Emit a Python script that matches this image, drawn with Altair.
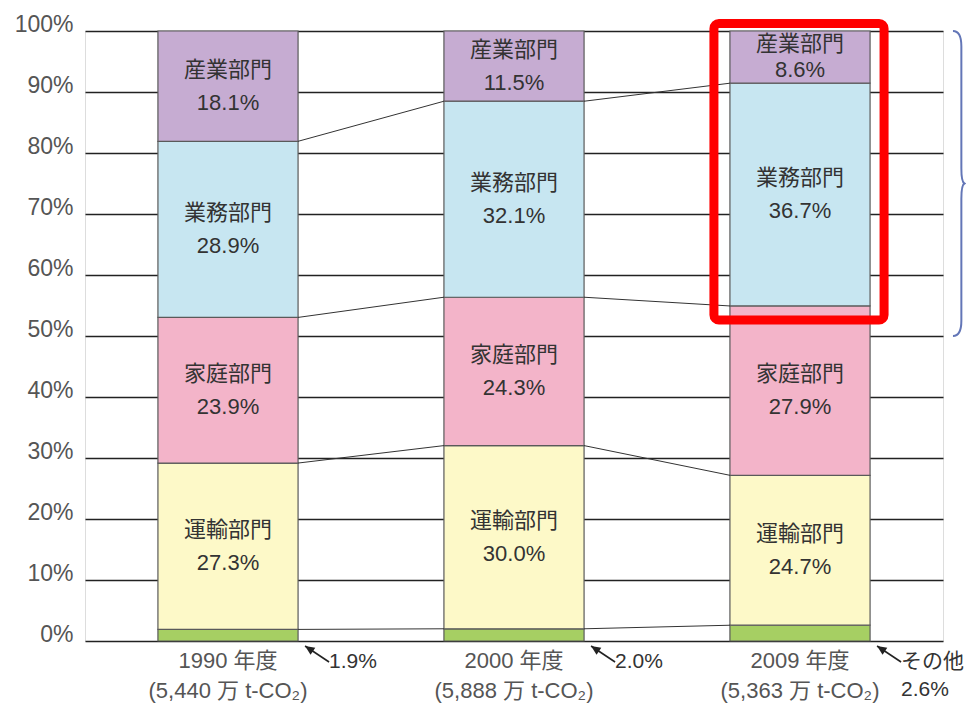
import altair as alt
import pandas as pd

# ---------------- data ----------------
years = ["1990 年度", "2000 年度", "2009 年度"]
totals = ["(5,440 万 t-CO₂)", "(5,888 万 t-CO₂)", "(5,363 万 t-CO₂)"]
sectors = ["その他", "運輸部門", "家庭部門", "業務部門", "産業部門"]  # bottom -> top
sector_colors = ["#a6cf63", "#fdf9c8", "#f3b4c9", "#c7e6f1", "#c6acd2"]
shares_1990 = [1.9, 27.3, 23.9, 28.9, 18.1]
shares_2000 = [2.0, 30.0, 24.3, 32.1, 11.5]
shares_2009 = [2.6, 24.7, 27.9, 36.7, 8.6]
other_notes = ["1.9%", "2.0%", "その他\n2.6%"]
highlight_year = "2009 年度"
highlight_sectors = ["業務部門", "産業部門"]
brace_range = [0.5, 1.0]
y_ticks = [i / 10 for i in range(11)]

# ---------------- tables ----------------
cats = [f"{y}|{t}" for y, t in zip(years, totals)]
all_shares = [shares_1990, shares_2000, shares_2009]

seg_rows = []
bounds = []
for cat, vals in zip(cats, all_shares):
    tot = sum(vals)
    acc = 0.0
    b = []
    for s, v in zip(sectors, vals):
        lo = acc / tot
        acc += v
        hi = acc / tot
        b.append(hi)
        seg_rows.append(dict(cat=cat, sector=s, lo=lo, hi=hi, mid=(lo + hi) / 2,
                             h=hi - lo,
                             label="" if s == "その他" else f"{s}\n{v:.1f}%"))
    bounds.append(b)
seg = pd.DataFrame(seg_rows)

conn_rows = []
for i in range(len(cats) - 1):
    for k in range(len(sectors) - 1):
        conn_rows.append(dict(cat=cats[i], cat2=cats[i + 1],
                              ya=bounds[i][k], yb=bounds[i + 1][k]))
conn = pd.DataFrame(conn_rows)

hcat = cats[years.index(highlight_year)]
hseg = seg[(seg.cat == hcat) & (seg.sector.isin(highlight_sectors))]
box = pd.DataFrame([dict(cat=hcat, lo=hseg.lo.min(), hi=hseg.hi.max())])

ann = pd.DataFrame([dict(cat=c, note=n, base=0.0) for c, n in zip(cats, other_notes)])

brace = pd.DataFrame([dict(cat=hcat, ymid=(brace_range[0] + brace_range[1]) / 2)])

# ---------------- chart ----------------
FONT = "Liberation Sans, Noto Sans CJK JP, sans-serif"
W, H = 858, 610
FS = 22

xscale = alt.Scale(domain=cats, paddingInner=0.51, paddingOuter=0.255)
yscale = alt.Scale(domain=[0, 1], nice=False)

x_main = alt.X("cat:N", scale=xscale, sort=cats, title=None,
               axis=alt.Axis(labelExpr="split(datum.label, '|')", labelAngle=0,
                             labelFontSize=FS, labelColor="#555555", labelFont=FONT,
                             labelPadding=9, labelLineHeight=30, ticks=False,
                             domain=False, grid=False))
y_main = alt.Y("lo:Q", scale=yscale, title=None,
               axis=alt.Axis(values=y_ticks, format=".0%", labelFontSize=23,
                             labelColor="#555555", labelFont=FONT, labelPadding=12,
                             labelBaseline="alphabetic", ticks=False, domain=False,
                             grid=True, gridColor="#222222", gridWidth=1.3))

bars = alt.Chart(seg).mark_bar(stroke="#5a5a5a", strokeWidth=1.2).encode(
    x=x_main,
    y=y_main,
    y2="hi:Q",
    color=alt.Color("sector:N", scale=alt.Scale(domain=sectors, range=sector_colors),
                    legend=None),
)

connectors = alt.Chart(conn).mark_rule(color="#333333", strokeWidth=1).encode(
    x=alt.X("cat:N", scale=xscale, sort=cats, bandPosition=1, title=None),
    x2=alt.X2("cat2:N", bandPosition=0),
    y=alt.Y("ya:Q", scale=yscale),
    y2="yb:Q",
)

big = seg[(seg.label != "") & (seg.h >= 0.1)]
small = seg[(seg.label != "") & (seg.h < 0.1)]

text_big = alt.Chart(big).mark_text(lineBreak="\n", lineHeight=33, fontSize=FS,
                                    font=FONT, color="#333333", baseline="middle",
                                    dy=-16.5).encode(
    x=alt.X("cat:N", scale=xscale, sort=cats),
    y=alt.Y("mid:Q", scale=yscale),
    text="label:N",
)
text_small = alt.Chart(small).mark_text(lineBreak="\n", lineHeight=26, fontSize=FS,
                                        font=FONT, color="#333333", baseline="middle",
                                        dy=-13).encode(
    x=alt.X("cat:N", scale=xscale, sort=cats),
    y=alt.Y("mid:Q", scale=yscale),
    text="label:N",
)

arrow_line = alt.Chart(ann).mark_rule(color="#222222", strokeWidth=1.6,
                                      xOffset=7, x2Offset=31, yOffset=5,
                                      y2Offset=21).encode(
    x=alt.X("cat:N", scale=xscale, sort=cats, bandPosition=1),
    x2=alt.X2("cat:N", bandPosition=1),
    y=alt.Y("base:Q", scale=yscale),
    y2="base:Q",
)
arrow_head = alt.Chart(ann).mark_point(shape="M 0 0 L -0.45 1 L 0.45 1 Z", size=360,
                                       angle=304, filled=True, color="#222222",
                                       opacity=1, xOffset=7, yOffset=5).encode(
    x=alt.X("cat:N", scale=xscale, sort=cats, bandPosition=1),
    y=alt.Y("base:Q", scale=yscale),
)
ann_text = alt.Chart(ann).mark_text(lineBreak="\n", lineHeight=28, fontSize=21,
                                    font=FONT, color="#333333", align="left",
                                    baseline="top", dx=31, dy=10).encode(
    x=alt.X("cat:N", scale=xscale, sort=cats, bandPosition=1),
    y=alt.Y("base:Q", scale=yscale),
    text="note:N",
)

red_box = alt.Chart(box).mark_rect(fillOpacity=0, stroke="#ff0000", strokeWidth=9,
                                   cornerRadius=5, xOffset=-16, x2Offset=14,
                                   yOffset=14, y2Offset=-7.5).encode(
    x=alt.X("cat:N", scale=xscale, sort=cats, bandPosition=0),
    x2=alt.X2("cat:N", bandPosition=1),
    y=alt.Y("lo:Q", scale=yscale),
    y2="hi:Q",
)

brace_px = (brace_range[1] - brace_range[0]) * H
brace_mark = alt.Chart(brace).mark_point(
    shape="M -0.04 -1 Q 0.015 -1 0.015 -0.9 L 0.015 -0.1 Q 0.015 -0.01 0.035 0 "
          "Q 0.015 0.01 0.015 0.1 L 0.015 0.9 Q 0.015 1 -0.04 1",
    size=brace_px ** 2, filled=False, color="#6376b7", strokeWidth=2, opacity=1,
    xOffset=89,
).encode(
    x=alt.X("cat:N", scale=xscale, sort=cats, bandPosition=1),
    y=alt.Y("ymid:Q", scale=yscale),
)

chart = alt.layer(
    bars, connectors, text_big, text_small, arrow_line, arrow_head, ann_text,
    red_box, brace_mark,
).properties(
    width=W, height=H,
    autosize=alt.AutoSizeParams(type="none"),
    padding={"left": 77, "top": 23, "right": 23, "bottom": 64},
).configure_view(stroke="#222222", strokeWidth=1.5).configure(font=FONT)

chart.save("out.html", embed_options={"renderer": "svg", "actions": False})
